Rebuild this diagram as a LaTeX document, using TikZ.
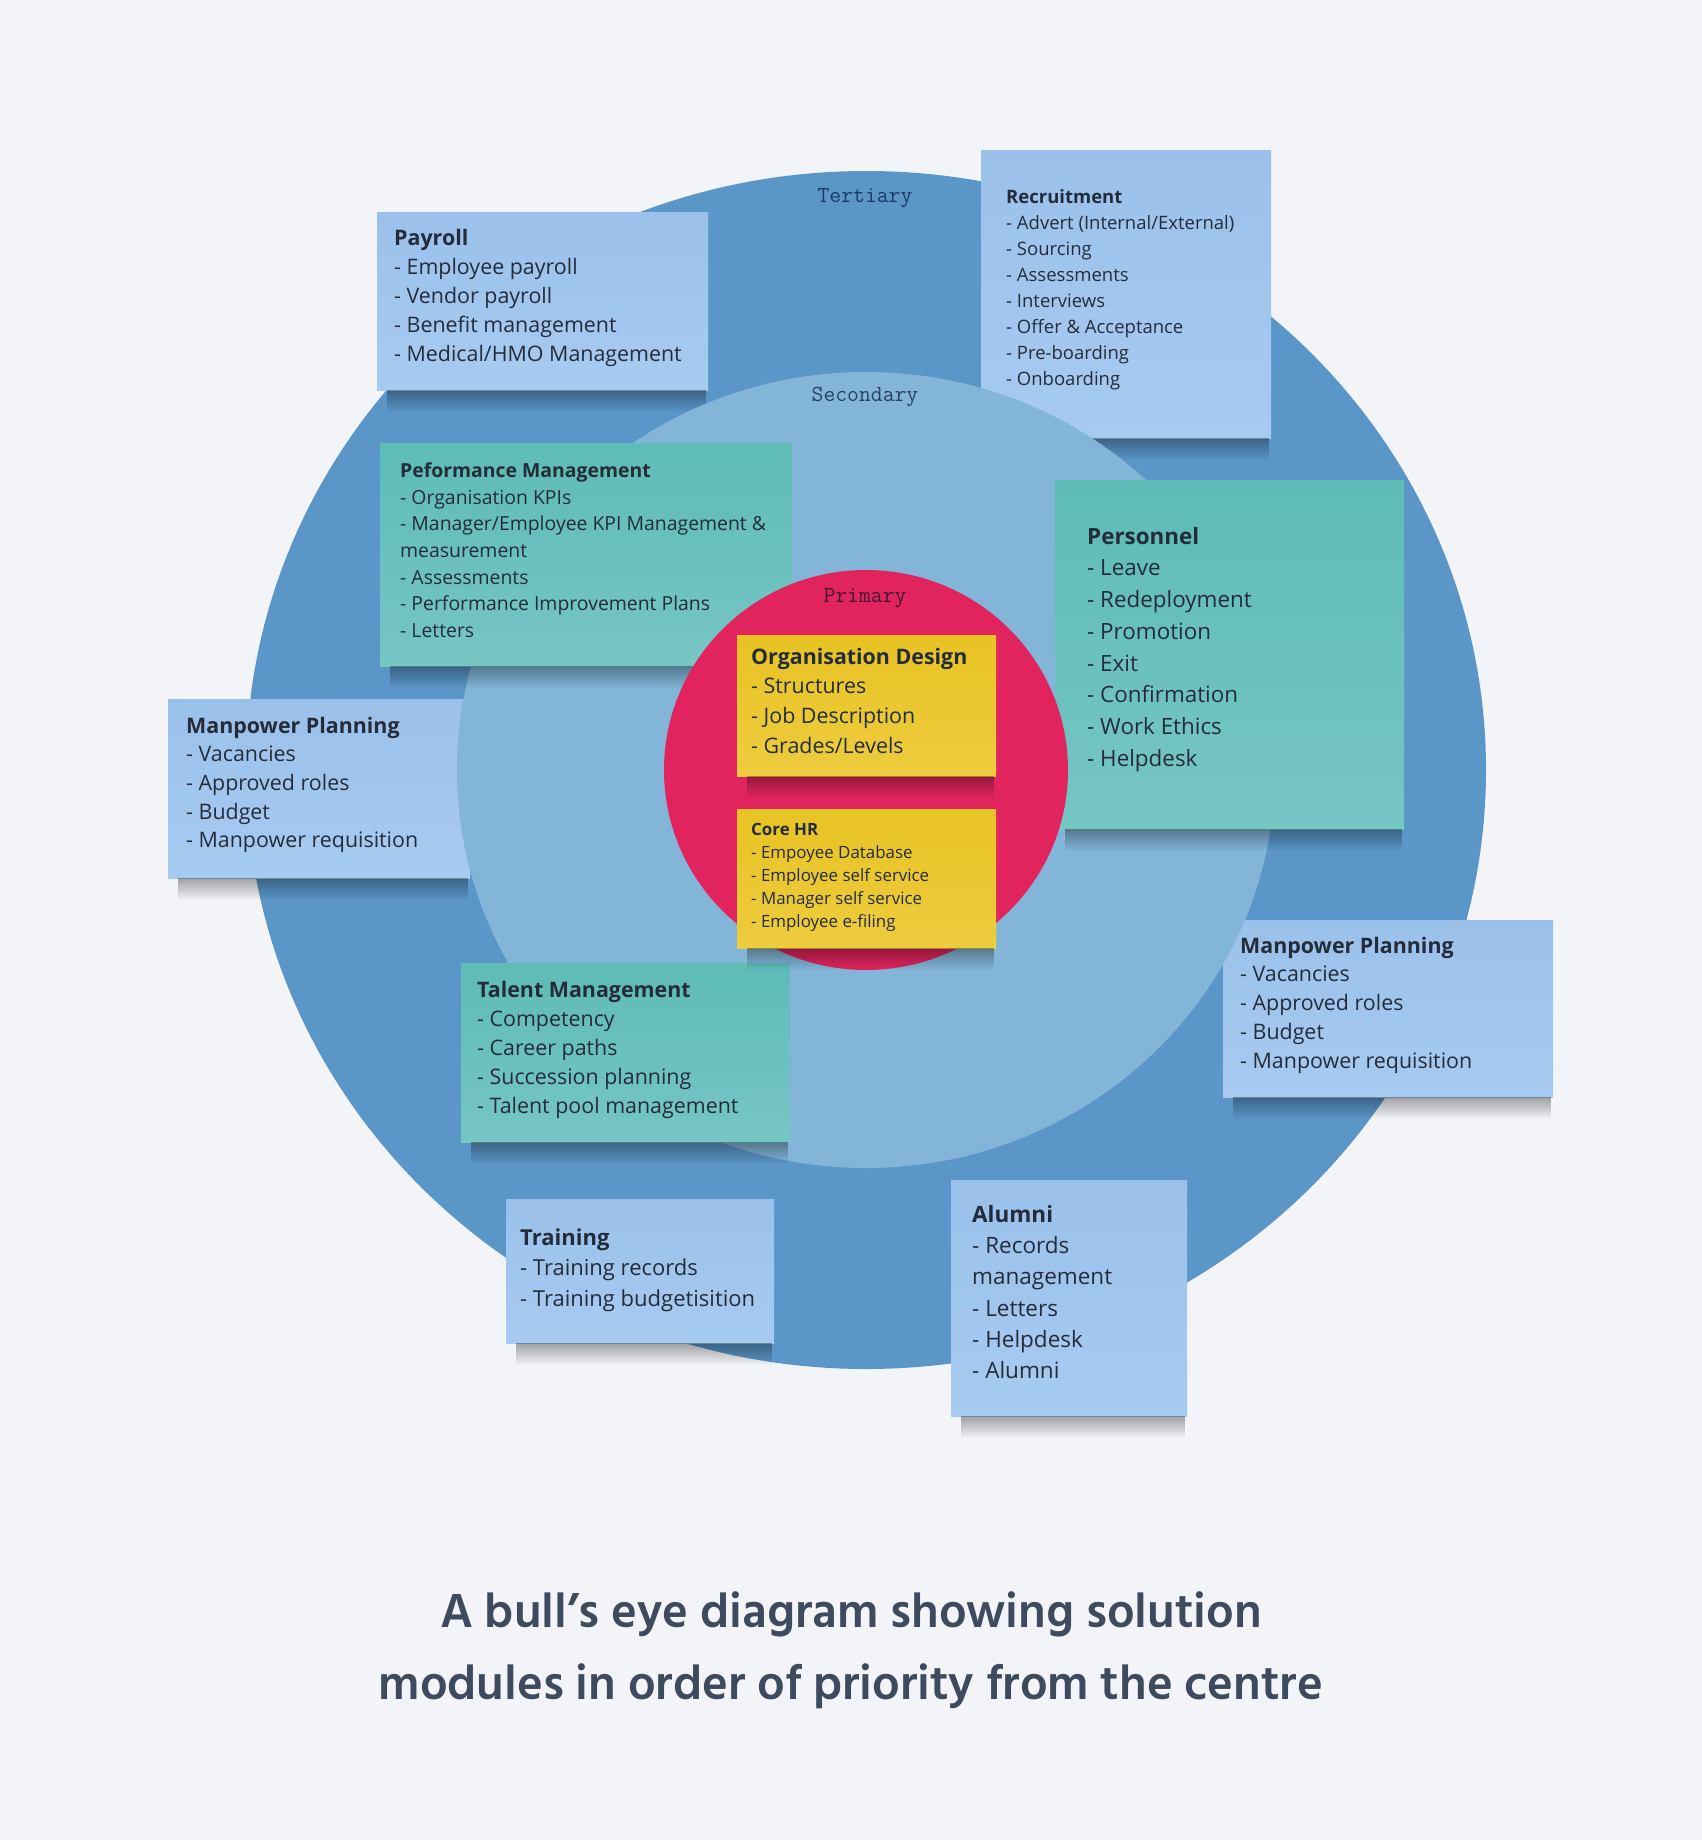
\documentclass[tikz,border=0pt]{standalone}
\usepackage{fontspec}
\setmainfont{Open Sans}
\newfontfamily\capfont{Hind Siliguri}
\usetikzlibrary{positioning,fadings}

\definecolor{pagebg}{RGB}{242,244,248}
\definecolor{tertiaryblue}{RGB}{90,150,200}
\definecolor{secondaryblue}{RGB}{130,181,216}
\definecolor{primaryred}{RGB}{225,36,94}
\definecolor{blueA}{RGB}{155,193,235}
\definecolor{blueB}{RGB}{167,202,240}
\definecolor{tealA}{RGB}{94,187,182}
\definecolor{tealB}{RGB}{118,198,196}
\definecolor{yellowA}{RGB}{232,195,36}
\definecolor{yellowB}{RGB}{237,204,62}
\definecolor{ink}{RGB}{36,44,58}
\definecolor{captionink}{RGB}{62,74,94}
\definecolor{tertink}{RGB}{30,58,100}
\definecolor{secink}{RGB}{40,66,96}
\definecolor{primink}{RGB}{70,20,50}

\newcommand{\fsz}[2]{\fontsize{#1}{#2}\selectfont}

\begin{document}
\begin{tikzpicture}[x=1pt,y=-1pt,
    note/.style={anchor=north west,inner sep=0pt,outer sep=0pt},
    bluenote/.style={note,top color=blueA,bottom color=blueB},
    tealnote/.style={note,top color=tealA,bottom color=tealB},
    yellownote/.style={note,top color=yellowA,bottom color=yellowB},
    lift/.style={fill=black,opacity=.34,path fading=south},
    notetext/.style={anchor=north west,inner sep=0pt,align=left,text=ink},
    ringlabel/.style={anchor=base,inner sep=0pt,font=\ttfamily\fsz{23}{23}},
    caption/.style={anchor=base,inner sep=0pt,text=captionink,font=\capfont\bfseries\fsz{49}{60}}]

  \fill[pagebg] (0,0) rectangle (1702,1840);
  \useasboundingbox (0,0) rectangle (1702,1840);

  % tertiary ring and its notes
  \fill[tertiaryblue] (866,770) ellipse [x radius=620,y radius=599];
  \node[ringlabel,text=tertink] (tertiary) at (865,202) {Tertiary};

  \node[bluenote,minimum width=331pt,minimum height=178pt] (payroll) at (377,212) {};
  \node[notetext,font=\fsz{21.4}{29},below right=16.7pt and 17pt of payroll.north west] (payrolltext)
    {\textbf{Payroll}\\- Employee payroll\\- Vendor payroll\\- Benefit management\\- Medical/HMO Management};

  \node[bluenote,minimum width=290pt,minimum height=288pt] (recruit) at (981,150) {};
  \node[notetext,font=\fsz{18.5}{26},below right=39pt and 25pt of recruit.north west] (recruittext)
    {\textbf{Recruitment}\\- Advert (Internal/External)\\- Sourcing\\- Assessments\\- Interviews\\- Offer \& Acceptance\\- Pre-boarding\\- Onboarding};

  \node[bluenote,minimum width=302pt,minimum height=179pt] (manpowerleft) at (168,699) {};
  \node[notetext,font=\fsz{21.4}{28.7},below right=17.7pt and 18pt of manpowerleft.north west] (manpowerlefttext)
    {\textbf{Manpower Planning}\\- Vacancies\\- Approved roles\\- Budget\\- Manpower requisition};

  \node[bluenote,minimum width=330pt,minimum height=177pt] (manpowerright) at (1223,920) {};
  \node[notetext,font=\fsz{21.4}{28.8},below right=16.7pt and 17pt of manpowerright.north west] (manpowerrighttext)
    {\textbf{Manpower Planning}\\- Vacancies\\- Approved roles\\- Budget\\- Manpower requisition};

  \node[bluenote,minimum width=268pt,minimum height=144pt] (training) at (506,1199) {};
  \node[notetext,font=\fsz{22}{30.5},below right=29.5pt and 14pt of training.north west] (trainingtext)
    {\textbf{Training}\\- Training records\\- Training budgetisition};

  \node[bluenote,minimum width=236pt,minimum height=236pt] (alumni) at (951,1180) {};
  \node[notetext,font=\fsz{22.5}{31.3},below right=25pt and 21pt of alumni.north west] (alumnitext)
    {\textbf{Alumni}\\- Records\\management\\- Letters\\- Helpdesk\\- Alumni};

  \foreach \n in {payroll,recruit,manpowerleft,manpowerright,training,alumni}
    \fill[lift] ([xshift=10pt]\n.south west) rectangle ([xshift=-2pt,yshift=-22pt]\n.south east);

  % secondary ring and its notes
  \fill[secondaryblue] (866,770) ellipse [x radius=409,y radius=398];
  \node[ringlabel,text=secink] (secondary) at (865,401) {Secondary};

  \node[tealnote,minimum width=412pt,minimum height=223pt] (performance) at (380,443) {};
  \node[notetext,font=\fsz{19.4}{26.7},below right=19.3pt and 20pt of performance.north west] (performancetext)
    {\textbf{Peformance Management}\\- Organisation KPIs\\- Manager/Employee KPI Management \&\\measurement\\- Assessments\\- Performance Improvement Plans\\- Letters};

  \node[tealnote,minimum width=349pt,minimum height=349pt] (personnel) at (1055,480) {};
  \node[notetext,font=\fsz{22.4}{31.7},below right=47pt and 32pt of personnel.north west] (personneltext)
    {\textbf{Personnel}\\- Leave\\- Redeployment\\- Promotion\\- Exit\\- Confirmation\\- Work Ethics\\- Helpdesk};

  \node[tealnote,minimum width=329pt,minimum height=179pt] (talent) at (461,963) {};
  \node[notetext,font=\fsz{21.4}{29},below right=17.7pt and 16pt of talent.north west] (talenttext)
    {\textbf{Talent Management}\\- Competency\\- Career paths\\- Succession planning\\- Talent pool management};

  \foreach \n in {performance,personnel,talent}
    \fill[lift] ([xshift=10pt]\n.south west) rectangle ([xshift=-2pt,yshift=-22pt]\n.south east);

  % primary ring and its notes
  \fill[primaryred] (866,770) ellipse [x radius=202,y radius=200];
  \node[ringlabel,text=primink] (primary) at (865,602) {Primary};

  \node[yellownote,minimum width=259pt,minimum height=141pt] (orgdesign) at (737,635) {};
  \node[notetext,font=\fsz{21.4}{29.7},below right=12.7pt and 14pt of orgdesign.north west] (orgdesigntext)
    {\textbf{Organisation Design}\\- Structures\\- Job Description\\- Grades/Levels};

  \node[yellownote,minimum width=259pt,minimum height=139pt] (corehr) at (737,809) {};
  \node[notetext,font=\fsz{16.9}{23},below right=13.9pt and 14pt of corehr.north west] (corehrtext)
    {\textbf{Core HR}\\- Empoyee Database\\- Employee self service\\- Manager self service\\- Employee e-filing};

  \foreach \n in {orgdesign,corehr}
    \fill[lift] ([xshift=10pt]\n.south west) rectangle ([xshift=-2pt,yshift=-22pt]\n.south east);

  % caption
  \node[caption] (caption1) at (851,1627) {A bull’s eye diagram showing solution};
  \node[caption] (caption2) at (851,1699) {modules in order of priority from the centre};
\end{tikzpicture}
\end{document}
